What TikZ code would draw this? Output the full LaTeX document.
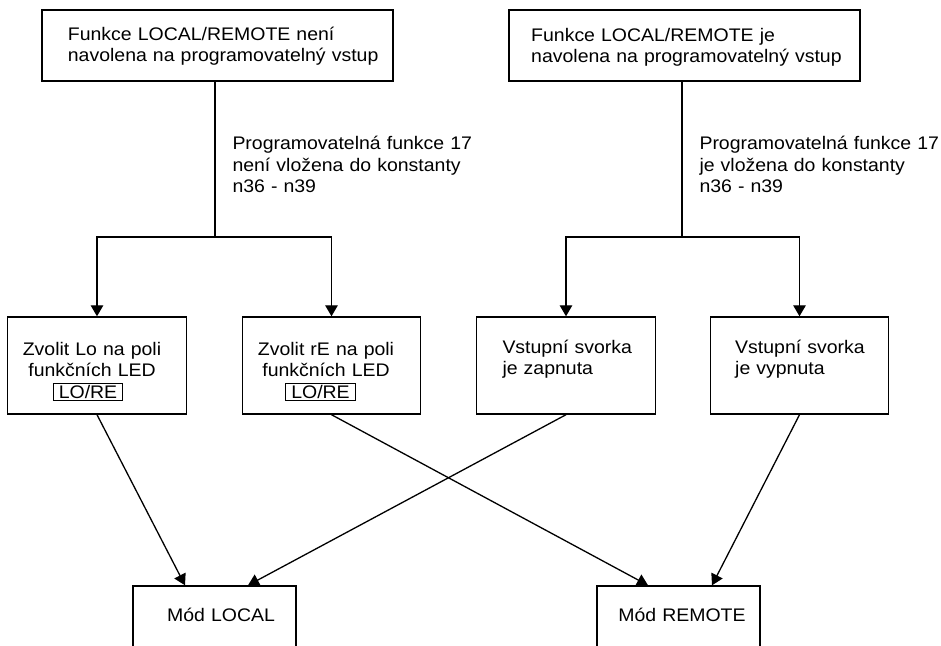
\documentclass[tikz,border=0pt]{standalone}
\usepackage{fontspec}
\setmainfont{Liberation Sans}[FakeStretch=1.07]
\usetikzlibrary{arrows.meta,calc}
\setlength{\fboxsep}{1.3pt}
\setlength{\fboxrule}{1pt}
\tikzset{
  box/.style={draw, line width=1.4pt, rectangle, inner sep=0pt},
  txt/.style={inner sep=0pt, font=\fontsize{18.2}{21.6}\selectfont, text width=340pt, align=left, anchor=base west},
  ctxt/.style={inner sep=0pt, font=\fontsize{18.2}{21.6}\selectfont, text width=170pt, align=center, anchor=base},
  conn/.style={line width=1.3pt},
  arr/.style={conn, -{Triangle[length=11pt,width=12.5pt]}}
}
\newcommand{\lorebox}{\fbox{\hspace{3.5pt}LO/RE\hspace{3.5pt}}}
\begin{document}
\begin{tikzpicture}[x=1pt,y=-1pt]
\useasboundingbox (0,0) rectangle (941,645);
\fill[white] (0,0) rectangle (941,645);
\clip (0,0) rectangle (941,645);

% top boxes
\node[box, minimum width=351pt, minimum height=71pt] (tl) at (217.5,45.5) {};
\node[txt] (tlt) at (67.7,40.3) {Funkce LOCAL/REMOTE není\\navolena na programovatelný vstup};
\node[box, minimum width=351pt, minimum height=71pt] (tr) at (684.5,45.5) {};
\node[txt] (trt) at (531,41) {Funkce LOCAL/REMOTE je\\navolena na programovatelný vstup};

% labels
\node[txt] (lbl) at (232.3,149.5) {Programovatelná funkce 17\\není vložena do konstanty\\n36 - n39};
\node[txt] (lbr) at (699.3,149.5) {Programovatelná funkce 17\\je vložena do konstanty\\n36 - n39};

% middle boxes
\node[box, minimum width=178.5pt, minimum height=97pt] (m1) at (97,365.5) {};
\node[ctxt] (m1t) at (92,355) {Zvolit Lo na poli\\funkčních LED\\\hspace*{-8pt}\lorebox};
\node[box, minimum width=178.5pt, minimum height=97pt] (m2) at (331.5,365.5) {};
\node[ctxt] (m2t) at (326,355) {Zvolit rE na poli\\funkčních LED\\\hspace*{-11pt}\lorebox};
\node[box, minimum width=178.5pt, minimum height=97pt] (m3) at (566,365.5) {};
\node[txt] (m3t) at (502.3,353) {Vstupní svorka\\je zapnuta};
\node[box, minimum width=178.5pt, minimum height=97pt] (m4) at (799.5,365.5) {};
\node[txt] (m4t) at (735,353) {Vstupní svorka\\je vypnuta};

% bottom boxes (cut by the lower edge)
\node[box, minimum width=163pt, minimum height=90pt] (loc) at (214.5,631) {};
\node[ctxt] (loct) at (221,621.7) {Mód LOCAL};
\node[box, minimum width=163pt, minimum height=90pt] (rem) at (678.5,631) {};
\node[ctxt] (remt) at (682,621.7) {Mód REMOTE};

% branching connectors
\coordinate (jl) at (215,237);
\coordinate (jr) at (682,237);
\draw[conn] (tl.south -| jl) -- (jl);
\draw[arr] (jl) -| (m1.north);
\draw[arr] (jl) -| (m2.north);
\draw[conn] (tr.south -| jr) -- (jr);
\draw[arr] (jr) -| (m3.north);
\draw[arr] (jr) -| (m4.north);

% crossing connectors
\draw[arr] (m1.south) -- ($(loc.north)+(-29.5,0)$);
\draw[arr] (m3.south) -- ($(loc.north)+(33.5,0)$);
\draw[arr] (m2.south) -- ($(rem.north)+(-30.5,0)$);
\draw[arr] (m4.south) -- ($(rem.north)+(33.5,0)$);
\end{tikzpicture}
\end{document}
